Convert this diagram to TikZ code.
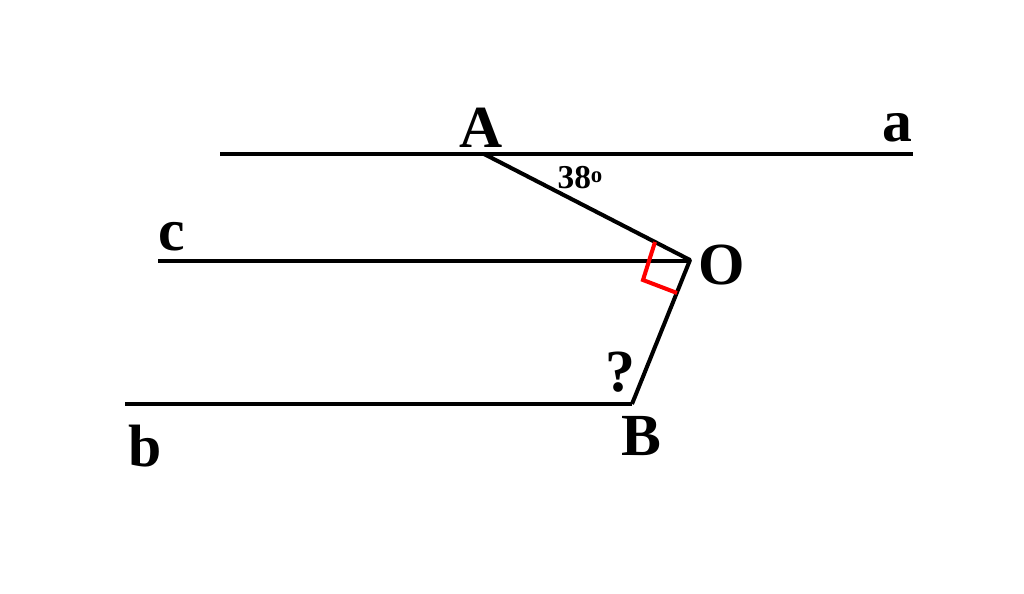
\documentclass[tikz,border=0pt]{standalone}
\usepackage{fontspec}
\setmainfont{Liberation Serif}
\begin{document}
\begin{tikzpicture}[x=0.02cm,y=-0.02cm,
  ln/.style={line width=2.3pt,black},
  lab/.style={font=\fontsize{34}{34}\selectfont\bfseries,inner sep=0pt}]
\useasboundingbox[fill=white] (0,0) rectangle (1024,594);
\coordinate (a1) at (220,154); \coordinate (a2) at (913,154);
\coordinate (A) at (484,154);
\coordinate (O) at (690,260);
\coordinate (c1) at (158,261); \coordinate (c2) at (690,261);
\coordinate (B) at (632,404);
\coordinate (b1) at (125,404);
\draw[ln] (a1) -- (a2);
\draw[ln] (c1) -- (c2);
\draw[ln] (b1) -- (B);
\draw[ln,line join=round] (A) -- (O) -- (B);
\coordinate (r1) at (655,242); \coordinate (r2) at (643,280); \coordinate (r3) at (677,293);
\draw[red,line width=2.3pt] (r1) -- (r2) -- (r3);
\node[lab] (lA) at (481,128) {A};
\node[lab] (la) at (897,128) {a};
\node[lab] (lc) at (172,237) {c};
\node[lab] (lO) at (722,265) {O};
\node[lab] (lq) at (620,372) {?};
\node[lab] (lB) at (641,436) {B};
\node[lab] (lb) at (145,446) {b};
\node[inner sep=0pt,font=\fontsize{19}{19}\selectfont\bfseries] (ang) at (580,178) {38\raisebox{0.45ex}{\fontsize{13}{13}\selectfont o}};
\end{tikzpicture}
\end{document}
